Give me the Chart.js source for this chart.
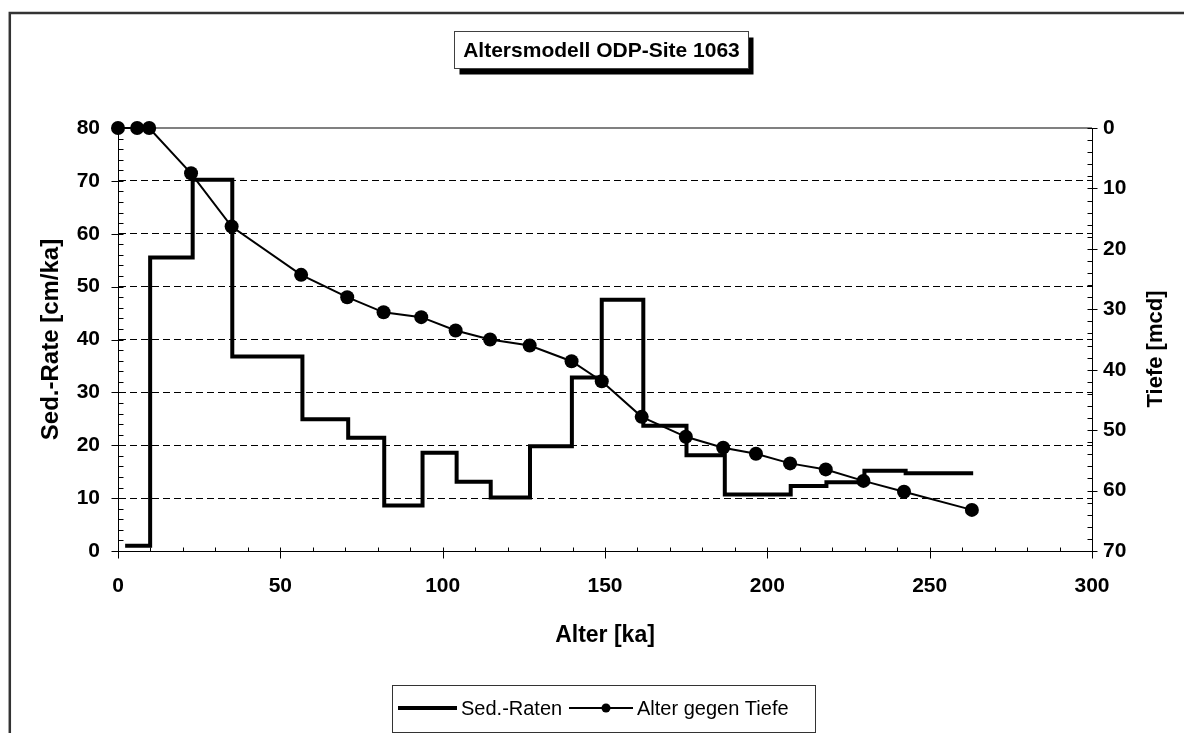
<!DOCTYPE html>
<html lang="de">
<head>
<meta charset="utf-8">
<title>Altersmodell ODP-Site 1063</title>
<script src="https://cdn.jsdelivr.net/npm/chart.js@4.4.1/dist/chart.umd.min.js"></script>
<style>
  html, body { margin: 0; padding: 0; background: #fff; }
  #rahmen { position: relative; width: 1184px; height: 733px; }
</style>
</head>
<body>
<div id="rahmen"><canvas id="grafikAlter"></canvas></div>
<script>
// Sedimentationsraten als Treppenkurve: Alter [ka] der Stufenkanten und Rate [cm/ka]
const sedAlter = [2.2, 9.9, 23.0, 35.2, 56.8, 70.9, 82.0, 93.8, 104.3, 114.8, 126.9, 139.8,
                  149.0, 161.8, 175.1, 186.9, 207.2, 218.2, 229.9, 242.6, 263.4];
const sedRaten = [1.0, 55.5, 70.2, 36.8, 24.9, 21.4, 8.6, 18.6, 13.1, 10.1, 19.8, 32.8,
                  47.5, 23.7, 18.1, 10.7, 12.3, 13.0, 15.2, 14.7, 14.7];

// Alter-Tiefen-Punkte (Tiefe in mcd, rechte Achse)
const tiefeAlter = [0, 5.9, 9.6, 22.5, 35.0, 56.4, 70.6, 81.8, 93.4, 104.0, 114.6, 126.8,
                    139.7, 149.0, 161.3, 174.9, 186.4, 196.5, 207.0, 218.0, 229.6, 242.1, 263.0];
const tiefe = [0, 0, 0, 7.5, 16.3, 24.3, 28.0, 30.5, 31.3, 33.5, 35.0, 36.0,
               38.6, 41.9, 47.8, 51.1, 52.9, 53.9, 55.5, 56.5, 58.4, 60.2, 63.2];

// Achsen
const xTicks = [0, 50, 100, 150, 200, 250, 300];
const rateTicks = [0, 10, 20, 30, 40, 50, 60, 70, 80];
const tiefeTicks = [0, 10, 20, 30, 40, 50, 60, 70];

const titel = 'Altersmodell ODP-Site 1063';
const legende = ['Sed.-Raten', 'Alter gegen Tiefe'];

const SCHRIFT = "'Liberation Sans', Arial, Helvetica, sans-serif";
Chart.defaults.font.family = SCHRIFT;
Chart.defaults.color = '#000';

// kleine Teilstriche an einer Achse
function teilstriche(ctx, scale, werte, minorStep, lage, pos) {
    const min = werte[0], max = werte[werte.length - 1];
    const major = werte[1] - werte[0];
    ctx.beginPath();
    for (let v = min; v <= max + 1e-9; v += minorStep) {
        const p = Math.round(scale.getPixelForValue(v)) + 0.5;
        const istMajor = Math.abs(v / major - Math.round(v / major)) < 1e-6;
        if (lage === 'unten') {
            ctx.moveTo(p, pos - 4);
            ctx.lineTo(p, pos + (istMajor ? 7 : 0));
        } else if (lage === 'links') {
            ctx.moveTo(pos - (istMajor ? 7 : 0), p);
            ctx.lineTo(pos + 5, p);
        } else {
            ctx.moveTo(pos - 5, p);
            ctx.lineTo(pos + (istMajor ? 5 : 0), p);
        }
    }
    ctx.stroke();
}

const dekor = {
    id: 'dekor',
    beforeDatasetsDraw(chart) {
        const { ctx, chartArea: a } = chart;
        // obere Begrenzung der Zeichenfläche
        ctx.save();
        ctx.strokeStyle = '#808080';
        ctx.lineWidth = 2;
        ctx.beginPath();
        ctx.moveTo(a.left, a.top);
        ctx.lineTo(a.right, a.top);
        ctx.stroke();
        ctx.restore();
    },
    afterDraw(chart) {
        const { ctx, chartArea: a, scales } = chart;
        ctx.save();

        // äußerer Rahmen
        ctx.strokeStyle = '#333';
        ctx.lineWidth = 2.5;
        ctx.beginPath();
        ctx.moveTo(9.8, 740);
        ctx.lineTo(9.8, 13);
        ctx.lineTo(1190, 13);
        ctx.stroke();

        // Teilstriche
        ctx.strokeStyle = '#000';
        ctx.lineWidth = 1;
        teilstriche(ctx, scales.x, xTicks, 10, 'unten', Math.round(a.bottom) + 0.5);
        teilstriche(ctx, scales.y, rateTicks, 2, 'links', Math.round(a.left) + 0.5);
        teilstriche(ctx, scales.y2, tiefeTicks, 2, 'rechts', Math.round(a.right) + 0.5);

        // Titel mit Schattenbox
        const tb = { x: 454.5, y: 31.5, w: 294, h: 37 };
        ctx.fillStyle = '#000';
        ctx.fillRect(tb.x + 5, tb.y + 6, tb.w, tb.h);
        ctx.fillStyle = '#fff';
        ctx.fillRect(tb.x, tb.y, tb.w, tb.h);
        ctx.strokeStyle = '#404040';
        ctx.strokeRect(tb.x, tb.y, tb.w, tb.h);
        ctx.fillStyle = '#000';
        ctx.font = 'bold 21px ' + SCHRIFT;
        ctx.textAlign = 'center';
        ctx.textBaseline = 'middle';
        ctx.fillText(titel, tb.x + tb.w / 2, tb.y + tb.h / 2 + 1);

        // rechter Achsentitel, von unten nach oben gelesen
        ctx.save();
        ctx.translate(1156, 349);
        ctx.rotate(-Math.PI / 2);
        ctx.font = 'bold 22px ' + SCHRIFT;
        ctx.fillText('Tiefe [mcd]', 0, 0);
        ctx.restore();

        // Legende
        const lb = { x: 392.5, y: 685.5, w: 423, h: 47 };
        const ly = 708;
        ctx.fillStyle = '#fff';
        ctx.fillRect(lb.x, lb.y, lb.w, lb.h);
        ctx.strokeStyle = '#333';
        ctx.lineWidth = 1;
        ctx.strokeRect(lb.x, lb.y, lb.w, lb.h);

        ctx.strokeStyle = '#000';
        ctx.lineWidth = 4;
        ctx.beginPath();
        ctx.moveTo(398, ly);
        ctx.lineTo(457, ly);
        ctx.stroke();

        ctx.lineWidth = 2;
        ctx.beginPath();
        ctx.moveTo(569, ly);
        ctx.lineTo(633, ly);
        ctx.stroke();
        ctx.fillStyle = '#000';
        ctx.beginPath();
        ctx.arc(606, ly, 4.5, 0, Math.PI * 2);
        ctx.fill();

        ctx.font = '20px ' + SCHRIFT;
        ctx.textAlign = 'left';
        ctx.textBaseline = 'middle';
        ctx.fillText(legende[0], 461, ly + 1);
        ctx.fillText(legende[1], 637, ly + 1);

        ctx.restore();
    }
};

const ctxAlter = document.getElementById('grafikAlter').getContext('2d');

new Chart(ctxAlter, {
    type: 'scatter',
    data: {
        datasets: [
            {
                label: legende[1],
                data: tiefeAlter.map((a, i) => ({ x: a, y: tiefe[i] })),
                yAxisID: 'y2',
                showLine: true,
                borderColor: '#000',
                borderWidth: 2,
                pointRadius: 7,
                pointBackgroundColor: '#000',
                pointBorderWidth: 0,
                clip: false,
                order: 1
            },
            {
                label: legende[0],
                data: sedAlter.map((a, i) => ({ x: a, y: sedRaten[i] })),
                yAxisID: 'y',
                showLine: true,
                stepped: true,
                borderColor: '#000',
                borderWidth: 4,
                borderJoinStyle: 'miter',
                pointRadius: 0,
                order: 2
            }
        ]
    },
    options: {
        responsive: true,
        maintainAspectRatio: false,
        animation: false,
        layout: { padding: { top: 128, left: 0, right: 0, bottom: 0 } },
        plugins: {
            legend: { display: false },
            tooltip: { enabled: false }
        },
        scales: {
            x: {
                type: 'linear',
                position: 'bottom',
                min: 0,
                max: 300,
                afterBuildTicks: s => { s.ticks = xTicks.map(v => ({ value: v })); },
                afterFit: s => { s.height = 182; },
                grid: { display: false, drawTicks: false },
                border: { display: true, color: '#000', width: 1 },
                ticks: { font: { size: 21, weight: 'bold' }, padding: 23, maxRotation: 0 },
                title: {
                    display: true,
                    text: 'Alter [ka]',
                    font: { size: 23, weight: 'bold' },
                    padding: { top: 0, bottom: 84 }
                }
            },
            y: {
                type: 'linear',
                position: 'left',
                min: 0,
                max: 80,
                afterBuildTicks: s => { s.ticks = rateTicks.map(v => ({ value: v })); },
                afterFit: s => { s.width = 118; },
                grid: {
                    drawTicks: false,
                    lineWidth: 1,
                    color: c => (c.tick && c.tick.value > 0 && c.tick.value < 80) ? '#000' : 'rgba(0,0,0,0)'
                },
                border: { display: true, color: '#000', width: 1, dash: [7, 4] },
                ticks: { font: { size: 21, weight: 'bold' }, padding: 18 },
                title: {
                    display: true,
                    text: 'Sed.-Rate [cm/ka]',
                    font: { size: 24, weight: 'bold' },
                    padding: { top: 37, bottom: 0 }
                }
            },
            y2: {
                type: 'linear',
                position: 'right',
                reverse: true,
                min: 0,
                max: 70,
                afterBuildTicks: s => { s.ticks = tiefeTicks.map(v => ({ value: v })); },
                afterFit: s => { s.width = 92; },
                grid: { display: false, drawTicks: false },
                border: { display: true, color: '#000', width: 1 },
                ticks: { font: { size: 21, weight: 'bold' }, padding: 11 }
            }
        }
    },
    plugins: [dekor]
});
</script>
</body>
</html>
